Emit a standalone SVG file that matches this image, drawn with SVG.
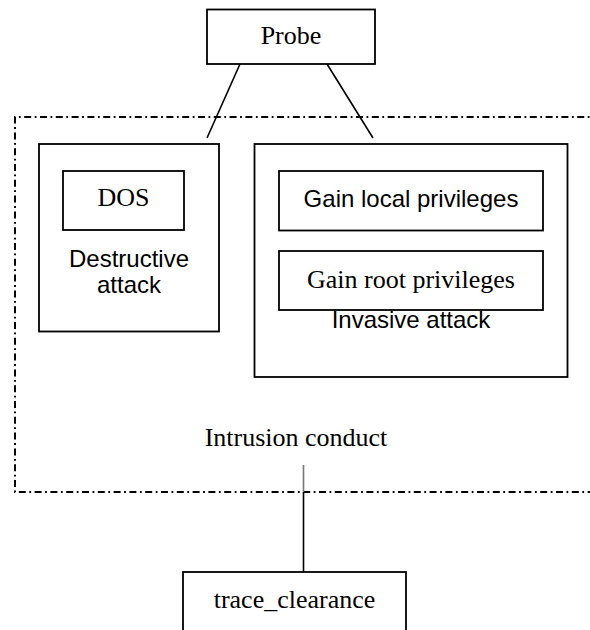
<svg xmlns="http://www.w3.org/2000/svg" width="590" height="630" viewBox="0 0 590 630">
<style>
.box{fill:#fff;stroke:#000;stroke-width:1.8}
.ser{font-family:"Liberation Serif","Times New Roman",serif;font-size:26px;fill:#000;text-anchor:middle}
.san{font-family:"Liberation Sans",Arial,sans-serif;font-size:24px;fill:#000;text-anchor:middle}
.edge{stroke:#000;stroke-width:1.6;fill:none}
.dd{fill:none;stroke:#000;stroke-width:2;stroke-dasharray:7 3.5 1.8 3.5}
</style>
<rect width="590" height="630" fill="#fff"/>
<g id="intrusion_conduct">
<path class="dd" d="M600 117 H15 V492 H600"/>
<text class="ser" x="296" y="446">Intrusion conduct</text>
</g>
<g id="connectors">
<line class="edge" x1="240" y1="64" x2="207" y2="138"/>
<line class="edge" x1="327" y1="64" x2="373" y2="138"/>
<line x1="303.5" y1="465" x2="303.5" y2="492" stroke="#777" stroke-width="1.6"/>
<line class="edge" x1="303.5" y1="492" x2="303.5" y2="572"/>
</g>
<g id="probe">
<rect class="box" x="207" y="9.5" width="168" height="54.5"/>
<text class="ser" x="291" y="44">Probe</text>
</g>
<g id="destructive_attack">
<rect class="box" x="39" y="144" width="180" height="187.5"/>
<text class="san" x="129" y="267">Destructive</text>
<text class="san" x="129" y="293">attack</text>
</g>
<g id="dos">
<rect class="box" x="63" y="171" width="121" height="59"/>
<text class="ser" x="123.5" y="206">DOS</text>
</g>
<g id="invasive_attack">
<rect class="box" x="254.5" y="144" width="313" height="233"/>
<text class="san" x="411" y="328">Invasive attack</text>
</g>
<g id="gain_local">
<rect class="box" x="279" y="171" width="264" height="59.5"/>
<text class="san" x="411" y="207">Gain local privileges</text>
</g>
<g id="gain_root">
<rect class="box" x="279" y="251" width="264" height="59"/>
<text class="ser" x="411" y="288">Gain root privileges</text>
</g>
<g id="trace_clearance">
<rect class="box" x="183" y="572" width="223" height="80"/>
<text class="ser" x="294.5" y="608">trace_clearance</text>
</g>
</svg>
